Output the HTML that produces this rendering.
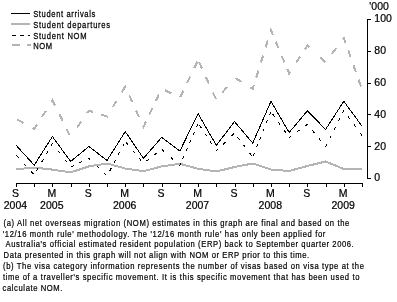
<!DOCTYPE html>
<html><head><meta charset="utf-8"><style>
html,body{margin:0;padding:0;background:#fff;width:397px;height:302px;overflow:hidden}
svg{display:block;will-change:transform}
</style></head><body>
<svg width="397" height="302" viewBox="0 0 397 302">
<g stroke-width="1" fill="none">
<path d="M11,13.5H30" stroke="#000" shape-rendering="crispEdges"/>
<path d="M11,24H30" stroke="#b4b4b4" stroke-width="2" shape-rendering="crispEdges"/>
<path d="M12,35.5H30" stroke="#000" stroke-dasharray="4 4" shape-rendering="crispEdges"/>
<path d="M12,45H31" stroke="#b4b4b4" stroke-width="2" stroke-dasharray="8 7" shape-rendering="crispEdges"/>
</g>
<g style="font-family:&quot;Liberation Sans&quot;,sans-serif;font-size:9.5px" fill="#000" stroke="#000" stroke-width="0.25">
<text transform="translate(33.2,16.9) scale(0.8,1)" textLength="77.62" lengthAdjust="spacing">Student arrivals</text>
<text transform="translate(33.2,27.8) scale(0.8,1)" textLength="96.12" lengthAdjust="spacing">Student departures</text>
<text transform="translate(33.2,38.7) scale(0.8,1)" textLength="66.75" lengthAdjust="spacing">Student NOM</text>
<text transform="translate(33.2,48.8) scale(0.8,1)" textLength="23.62" lengthAdjust="spacing">NOM</text>
</g>
<polyline points="16.00,169.20 34.21,167.60 52.42,169.60 70.63,172.40 88.84,166.40 107.05,163.50 125.26,168.50 143.47,171.20 161.68,166.40 179.89,163.80 198.11,168.80 216.32,171.50 234.53,167.00 252.74,163.50 270.95,169.50 289.16,171.00 307.37,166.00 325.58,161.50 343.79,169.00 362.00,168.80" fill="none" stroke="#b4b4b4" stroke-width="2" shape-rendering="crispEdges"/><path d="M17.41,119.59 L23.69,123.11 M32.50,128.04 L34.21,129.00 L37.03,124.58 M41.87,117.02 L45.74,110.95 M51.53,101.90 L52.42,100.50 L54.89,105.46 M59.28,114.24 L62.49,120.68 M66.49,128.70 L69.71,135.15 M77.09,127.67 L81.19,121.75 M87.16,113.13 L88.84,110.70 L92.88,111.99 M101.00,114.57 L107.05,116.50 L107.49,115.78 M112.80,107.03 L116.54,100.88 M121.77,92.25 L125.26,86.50 L125.46,86.93 M129.31,95.49 L132.26,102.06 M135.97,110.32 L138.93,116.89 M142.92,125.77 L143.47,127.00 L145.98,121.71 M149.39,114.49 L152.47,107.98 M155.87,100.79 L158.95,94.29 M164.92,90.19 L171.31,93.52 M180.30,97.15 L183.41,90.66 M187.09,82.98 L190.21,76.48 M194.22,68.11 L197.33,61.62 M199.07,62.11 L202.05,68.66 M205.93,77.19 L208.91,83.74 M212.84,92.37 L215.83,98.92 M222.34,92.55 L226.87,86.96 M235.42,78.05 L241.53,81.85 M250.25,87.25 L252.74,88.80 L254.01,84.72 M256.22,77.61 L258.36,70.73 M260.95,62.42 L263.09,55.55 M265.62,47.40 L267.76,40.53 M270.36,32.19 L270.95,30.30 L272.97,35.11 M275.65,41.46 L278.45,48.09 M281.72,55.85 L284.51,62.48 M287.28,69.05 L289.16,73.50 L290.45,71.51 M296.18,62.70 L300.11,56.66 M304.79,49.46 L307.37,45.50 L309.18,47.19 M319.89,57.19 L325.15,62.10 M331.94,53.94 L336.24,48.16 M342.77,39.38 L343.79,38.00 L345.62,43.17 M348.23,50.54 L350.63,57.33 M353.44,65.30 L355.84,72.08 M358.50,79.60 L360.90,86.39" fill="none" stroke="#b4b4b4" stroke-width="2" shape-rendering="crispEdges"/><path d="M16.49,155.15 L18.62,157.54 M24.22,163.81 L26.35,166.20 M31.14,171.56 L33.27,173.95 M36.38,171.26 L37.98,168.49 M41.76,161.93 L43.37,159.16 M46.49,153.75 L48.09,150.98 M50.95,146.04 L52.42,143.50 L52.58,143.71 M57.94,150.63 L59.91,153.16 M64.72,159.38 L66.68,161.91 M70.97,166.84 L73.86,165.46 M79.32,162.85 L82.21,161.47 M87.69,158.85 L88.84,158.30 L90.22,159.64 M96.50,165.74 L98.79,167.97 M103.65,172.69 L105.94,174.92 M109.74,170.92 L111.23,168.09 M113.85,163.13 L115.34,160.30 M118.26,154.77 L119.75,151.94 M122.76,146.24 L124.25,143.41 M126.09,142.49 L128.14,144.95 M132.73,150.44 L134.78,152.90 M139.17,158.14 L141.22,160.60 M146.27,161.15 L148.80,159.20 M154.21,155.05 L156.75,153.10 M161.84,149.44 L164.23,151.56 M170.77,157.38 L173.16,159.51 M179.43,165.08 L179.89,165.50 L180.91,163.14 M182.56,159.31 L183.83,156.37 M186.24,150.77 L187.50,147.83 M189.65,142.84 L190.92,139.90 M193.01,135.04 L194.27,132.11 M196.46,127.01 L197.73,124.07 M199.57,125.42 L201.34,128.10 M204.93,133.55 L206.70,136.22 M210.13,141.43 L211.89,144.10 M215.97,150.27 L216.32,150.80 L218.16,149.01 M223.10,144.25 L225.40,142.02 M231.79,135.85 L234.09,133.62 M237.48,137.06 L239.43,139.61 M243.33,144.70 L245.27,147.24 M249.66,152.98 L251.60,155.52 M253.22,155.79 L254.41,152.82 M256.62,147.29 L257.81,144.32 M259.67,139.67 L260.86,136.70 M262.94,131.50 L264.13,128.53 M266.30,123.10 L267.49,120.13 M269.44,115.28 L270.62,112.31 M272.69,113.99 L274.53,116.61 M278.28,121.97 L280.12,124.59 M284.18,130.40 L286.02,133.02 M288.93,137.18 L289.16,137.50 L291.44,135.87 M296.93,131.95 L299.53,130.09 M305.40,125.91 L307.37,124.50 L307.86,125.10 M312.23,130.37 L314.27,132.84 M319.05,138.61 L321.09,141.07 M325.45,146.35 L325.58,146.50 L326.94,143.83 M329.65,138.51 L331.10,135.65 M333.98,129.98 L335.43,127.13 M338.46,121.17 L339.91,118.32 M342.70,112.84 L343.79,110.70 L344.26,111.34 M348.04,116.48 L349.93,119.06 M353.93,124.51 L355.82,127.09 M359.98,132.75 L361.87,135.32" fill="none" stroke="#000" stroke-width="1" shape-rendering="crispEdges"/><polyline points="16.00,145.20 34.21,165.20 52.42,136.50 70.63,161.50 88.84,146.50 107.05,160.40 125.26,131.60 143.47,158.30 161.68,137.40 179.89,151.00 198.11,113.60 216.32,145.40 234.53,121.60 252.74,143.10 270.95,101.30 289.16,132.50 307.37,110.80 325.58,129.40 343.79,101.30 362.00,126.10" fill="none" stroke="#000" stroke-width="1" shape-rendering="crispEdges"/><path d="M16,183.5H363M16.5,183V187M34.5,183V187M52.5,183V187M71.5,183V187M89.5,183V187M107.5,183V187M125.5,183V187M143.5,183V187M162.5,183V187M180.5,183V187M198.5,183V187M216.5,183V187M235.5,183V187M253.5,183V187M271.5,183V187M289.5,183V187M307.5,183V187M326.5,183V187M344.5,183V187M362.5,183V187" stroke="#000" stroke-width="1" fill="none" shape-rendering="crispEdges"/><path d="M367.5,19V179M367,178.5H371M367,146.5H371M367,114.5H371M367,83.5H371M367,51.5H371M367,19.5H371" stroke="#000" stroke-width="1" fill="none" shape-rendering="crispEdges"/>
<g style="font-family:&quot;Liberation Sans&quot;,sans-serif;font-size:10.5px" fill="#000" stroke="#000" stroke-width="0.22"><text x="374.3" y="181.4">0</text><text x="374.3" y="149.6">20</text><text x="374.3" y="117.9">40</text><text x="374.3" y="86.0">60</text><text x="374.3" y="54.2">80</text><text x="374.3" y="22.4">100</text><text x="369.3" y="10">'000</text><text x="15.4" y="196.8" text-anchor="middle">S</text><text x="15.4" y="208.8" text-anchor="middle">2004</text><text x="51.8" y="196.8" text-anchor="middle">M</text><text x="51.8" y="208.8" text-anchor="middle">2005</text><text x="88.2" y="196.8" text-anchor="middle">S</text><text x="124.7" y="196.8" text-anchor="middle">M</text><text x="124.7" y="208.8" text-anchor="middle">2006</text><text x="161.1" y="196.8" text-anchor="middle">S</text><text x="197.5" y="196.8" text-anchor="middle">M</text><text x="197.5" y="208.8" text-anchor="middle">2007</text><text x="233.9" y="196.8" text-anchor="middle">S</text><text x="270.3" y="196.8" text-anchor="middle">M</text><text x="270.3" y="208.8" text-anchor="middle">2008</text><text x="306.8" y="196.8" text-anchor="middle">S</text><text x="343.2" y="196.8" text-anchor="middle">M</text><text x="343.2" y="208.8" text-anchor="middle">2009</text></g>
<g style="font-family:&quot;Liberation Sans&quot;,sans-serif;font-size:9px" fill="#000" stroke="#000" stroke-width="0.22"><text transform="translate(3.50,225.80) scale(0.85,1)" x="0" y="0" textLength="406.8" lengthAdjust="spacing">(a) All net overseas migration (NOM) estimates in this graph are final and based on the</text><text transform="translate(2.70,236.62) scale(0.85,1)" x="0" y="0" textLength="379.6" lengthAdjust="spacing">'12/16 month rule' methodology. The '12/16 month rule' has only been applied for</text><text transform="translate(5.60,247.44) scale(0.85,1)" x="0" y="0" textLength="409.6" lengthAdjust="spacing">Australia's official estimated resident population (ERP) back to September quarter 2006.</text><text transform="translate(3.60,258.26) scale(0.85,1)" x="0" y="0" textLength="359.5" lengthAdjust="spacing">Data presented in this graph will not align with NOM or ERP prior to this time.</text><text transform="translate(3.00,269.08) scale(0.85,1)" x="0" y="0" textLength="424.6" lengthAdjust="spacing">(b) The visa category information represents the number of visas based on visa type at the</text><text transform="translate(3.00,279.90) scale(0.85,1)" x="0" y="0" textLength="419.3" lengthAdjust="spacing">time of a traveller's specific movement. It is this specific movement that has been used to</text><text transform="translate(2.60,290.72) scale(0.85,1)" x="0" y="0" textLength="70.4" lengthAdjust="spacing">calculate NOM.</text></g>
</svg>
</body></html>
